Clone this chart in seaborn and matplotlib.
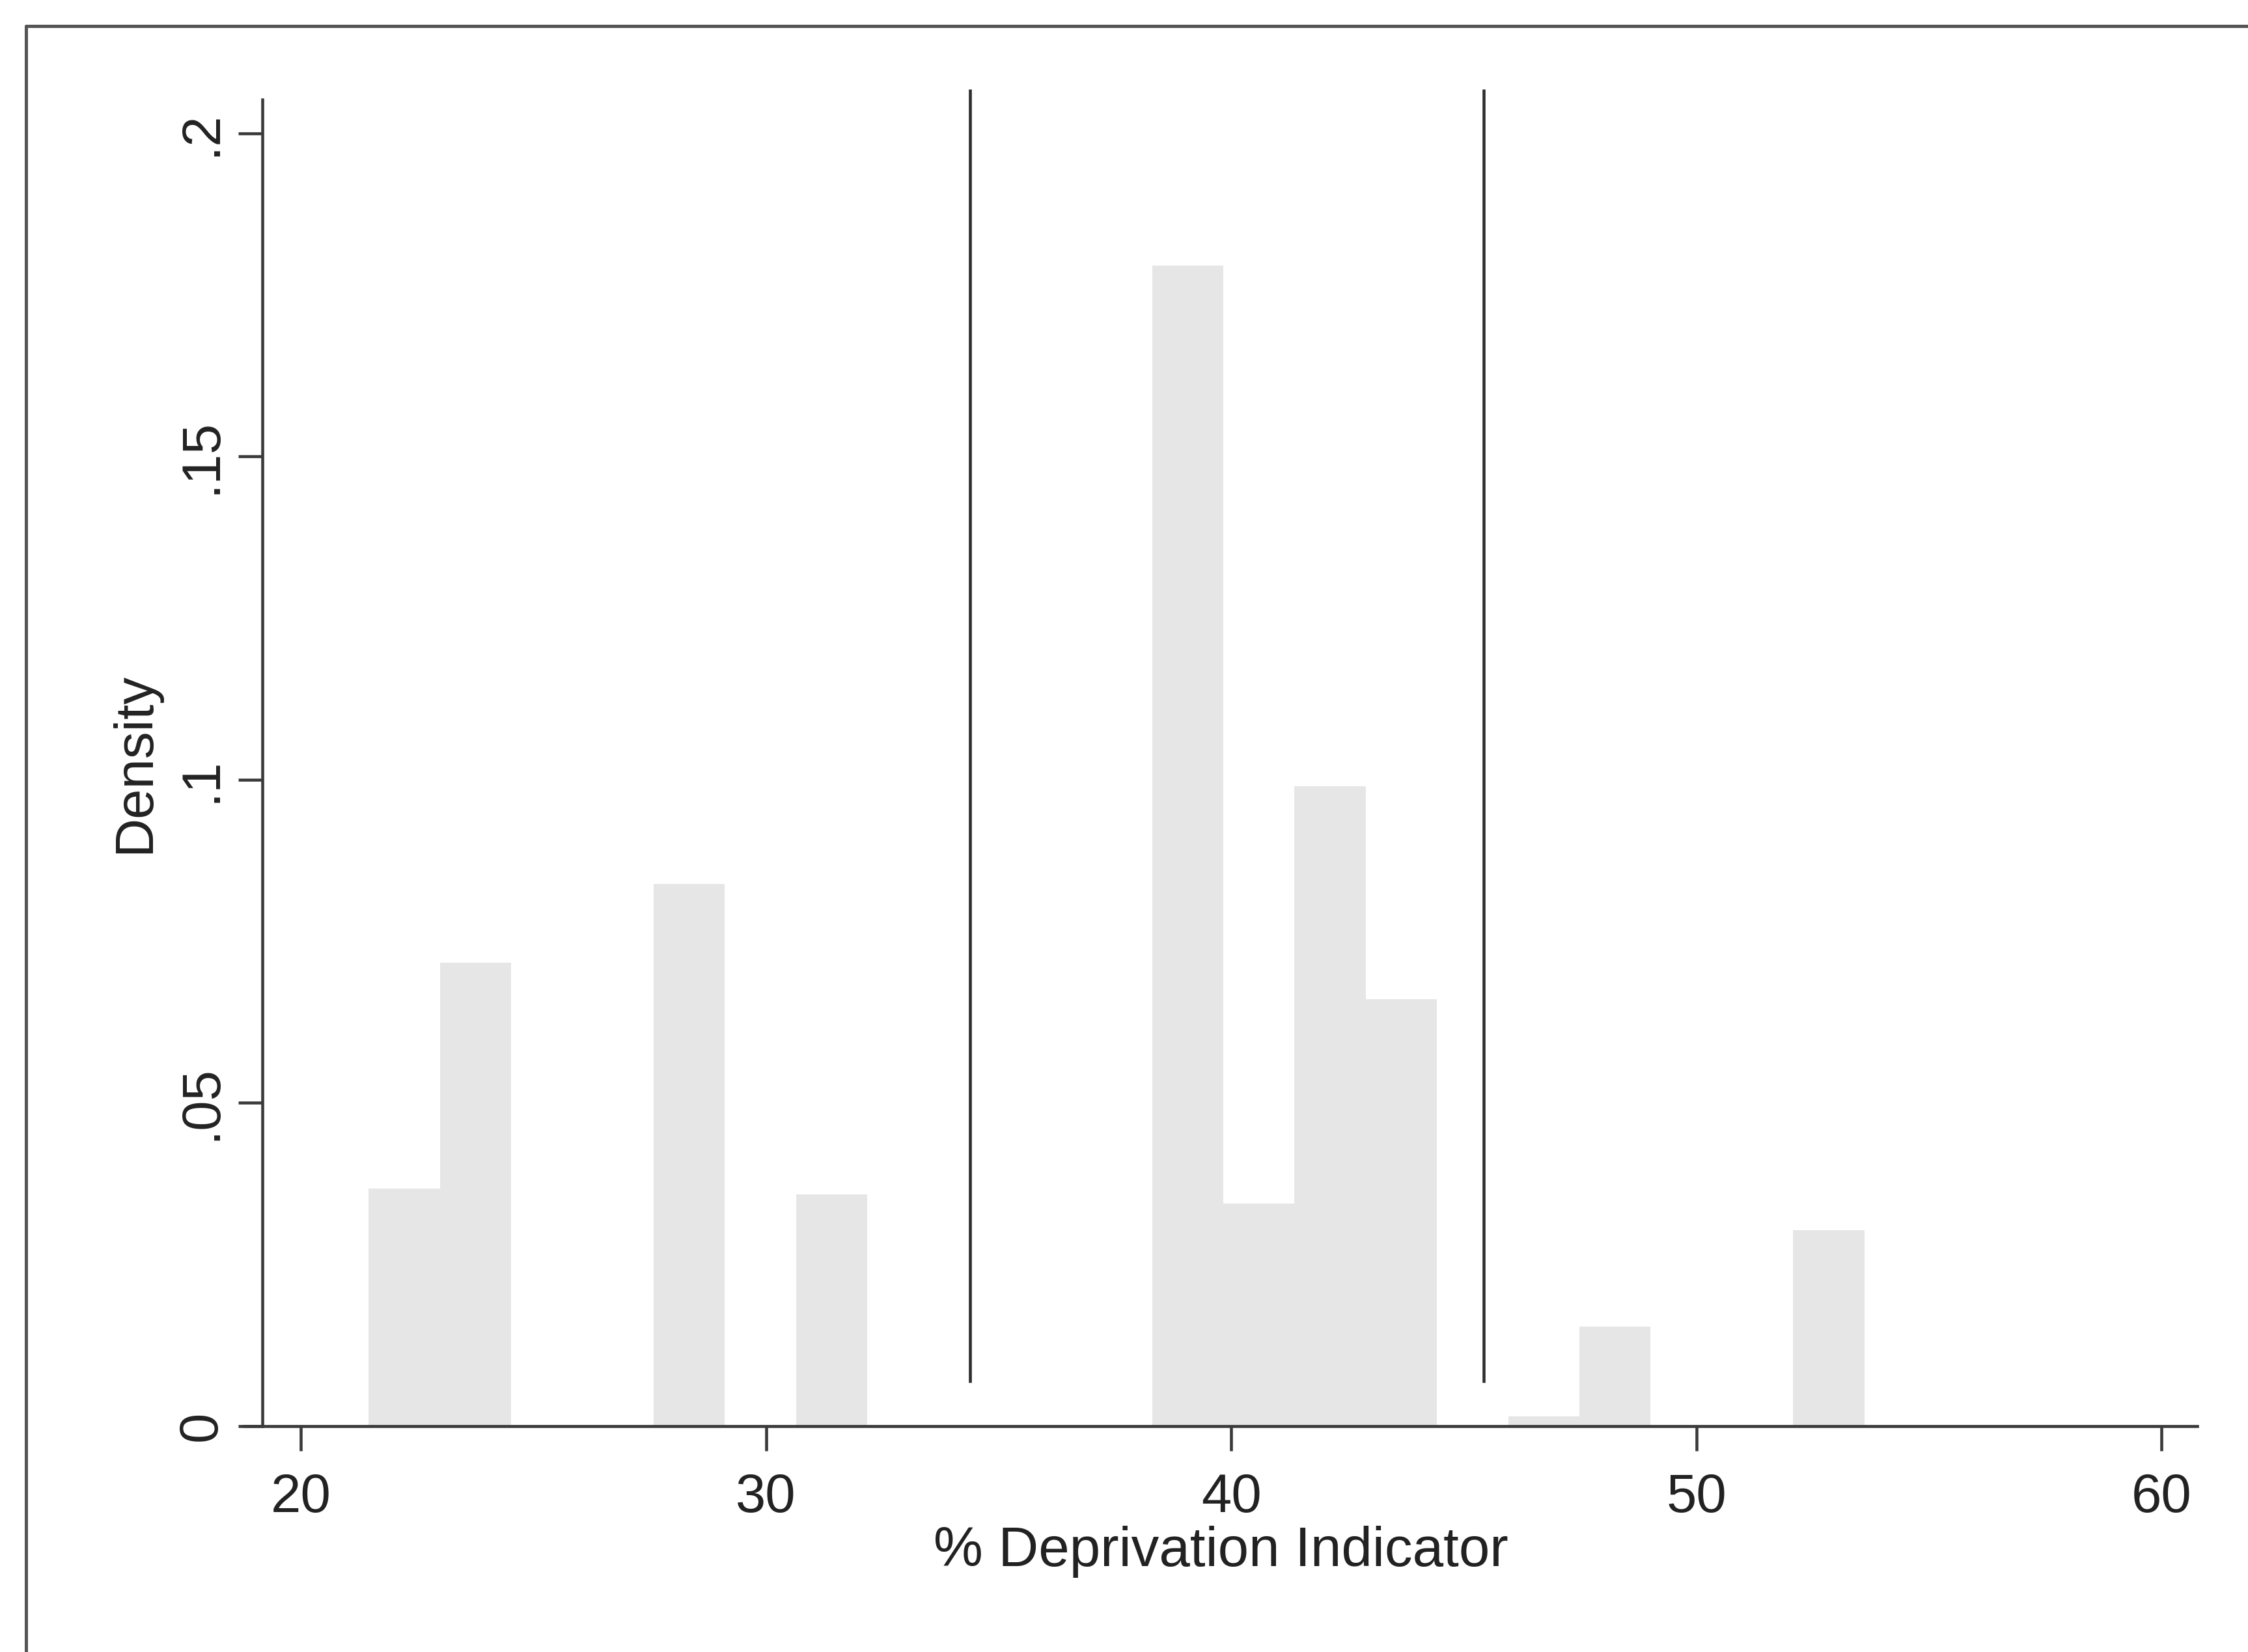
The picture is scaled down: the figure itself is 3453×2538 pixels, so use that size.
import numpy as np
import pandas as pd
import matplotlib
matplotlib.use("Agg")
import matplotlib.pyplot as plt
import seaborn as sns
from matplotlib.lines import Line2D

# ---- data ----
bin_start = 21.46
bin_width = 1.531
n_bins = 21
# density of each bin, index 0..20
densities = [0.0368, 0.0717, 0.0, 0.0, 0.0839, 0.0, 0.0358, 0.0, 0.0, 0.0, 0.0,
             0.1795, 0.0344, 0.0990, 0.0661, 0.0, 0.0015, 0.0154, 0.0, 0.0, 0.0303]
cutoffs = [34.39, 45.43]
x_ticks = [20, 30, 40, 50, 60]
x_tick_labels = ["20", "30", "40", "50", "60"]
y_ticks = [0, 0.05, 0.10, 0.15, 0.20]
y_tick_labels = ["0", ".05", ".1", ".15", ".2"]
x_label = "% Deprivation Indicator"
y_label = "Density"

bin_end = bin_start + bin_width * n_bins
centers = bin_start + bin_width * (np.arange(n_bins) + 0.5)
df = pd.DataFrame({"x": centers, "w": densities})

sns.set_style("white")
plt.rcParams["font.family"] = ["Liberation Sans", "DejaVu Sans"]

W, H = 3453, 2538
fig = plt.figure(figsize=(W / 300, H / 300), dpi=300)
ax = fig.add_axes([375 / W, 1 - 2191 / H, (3375 - 375) / W, (2191 - 153) / H])

sns.histplot(data=df, x="x", weights="w", binwidth=bin_width,
             binrange=(bin_start, bin_end), stat="count",
             color="#e6e6e6", edgecolor="none", linewidth=0, alpha=1.0, ax=ax)

axis_col = "#3a3a3a"
for xc in cutoffs:
    ax.vlines(xc, 0.0067, 0.2068, color="#2e2e2e", linewidth=1.1, clip_on=False)

ax.set_xlim(18.78, 60.77)
ax.set_ylim(0, 0.2052)
ax.set_xticks(x_ticks)
ax.set_xticklabels(x_tick_labels)
ax.set_yticks(y_ticks)
ax.set_yticklabels(y_tick_labels)

for s in ["top", "right"]:
    ax.spines[s].set_visible(False)
ax.spines["left"].set_position(("data", 19.17))
for s in ["left", "bottom"]:
    ax.spines[s].set_color(axis_col)
    ax.spines[s].set_linewidth(1.1)

ax.tick_params(axis="both", which="major", bottom=True, left=True, top=False, right=False,
               direction="out", length=9, width=1.1, color=axis_col,
               labelsize=20, labelcolor="#222222", pad=8)
ax.tick_params(axis="y", pad=4, labelrotation=90)
for lbl in ax.get_yticklabels():
    lbl.set_verticalalignment("center")
    lbl.set_horizontalalignment("right")

ax.set_xlabel(x_label, fontsize=20.5, color="#222222", labelpad=1)
ax.set_ylabel(y_label, fontsize=20, color="#222222", labelpad=6)

# outer frame of the graph region (cropped on right and bottom)
fx = 40 / W
fy = 1 - 40 / H
fig.add_artist(Line2D([fx, fx], [0, fy], transform=fig.transFigure, color="#555555", linewidth=1.2))
fig.add_artist(Line2D([fx, 1.0], [fy, fy], transform=fig.transFigure, color="#555555", linewidth=1.2))

fig.savefig("out.png", dpi=300, facecolor="white")
